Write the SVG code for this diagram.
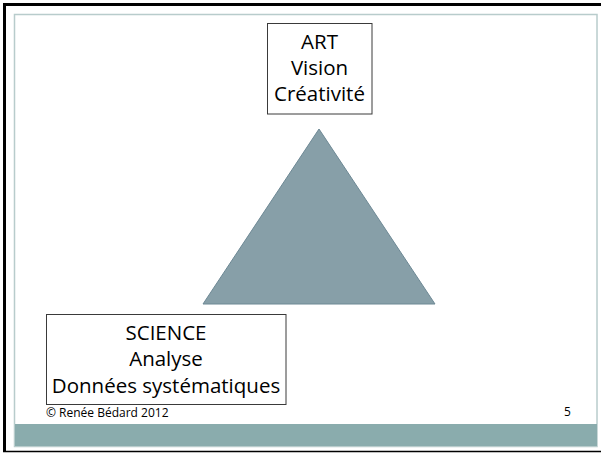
<svg xmlns="http://www.w3.org/2000/svg" width="601" height="454" viewBox="0 0 601 454">
<style>
.box{fill:#ffffff;stroke:#3a3a3a;stroke-width:1}
.t{font-family:"Open Sans","Liberation Sans",Arial,sans-serif;font-size:20.5px;fill:#000;text-anchor:middle}
.f{font-family:"Open Sans","Liberation Sans",Arial,sans-serif;font-size:12px;fill:#000}
</style>
<rect x="0" y="0" width="601" height="454" fill="#ffffff"/>
<path d="M4.5,452 V4.5 H601" fill="none" stroke="#000" stroke-width="3"/>
<line x1="3" y1="451.5" x2="601" y2="451.5" stroke="#000" stroke-width="1.5"/>
<rect x="14.5" y="14.5" width="582.5" height="432" fill="none" stroke="#b8cccc" stroke-width="1.5"/>
<rect x="15" y="424" width="582" height="22" fill="#8aacad"/>
<g id="triangle">
<polygon points="319,129 203,304 435,304" fill="#879fa8" stroke="#6d8894" stroke-width="1"/>
</g>
<g id="art">
<rect class="box" x="267.5" y="23.5" width="104.5" height="90.5"/>
<text class="t" x="319.5" y="49">ART</text>
<text class="t" x="319.5" y="75">Vision</text>
<text class="t" x="319.5" y="101">Créativité</text>
</g>
<g id="science">
<rect class="box" x="46.5" y="314.5" width="239.5" height="90"/>
<text class="t" x="166" y="340">SCIENCE</text>
<text class="t" x="166" y="366">Analyse</text>
<text class="t" x="166" y="393">Données systématiques</text>
</g>
<g id="connectors"></g>
<text class="f" x="46" y="417">© Renée Bédard 2012</text>
<text class="f" x="564" y="416">5</text>
</svg>
